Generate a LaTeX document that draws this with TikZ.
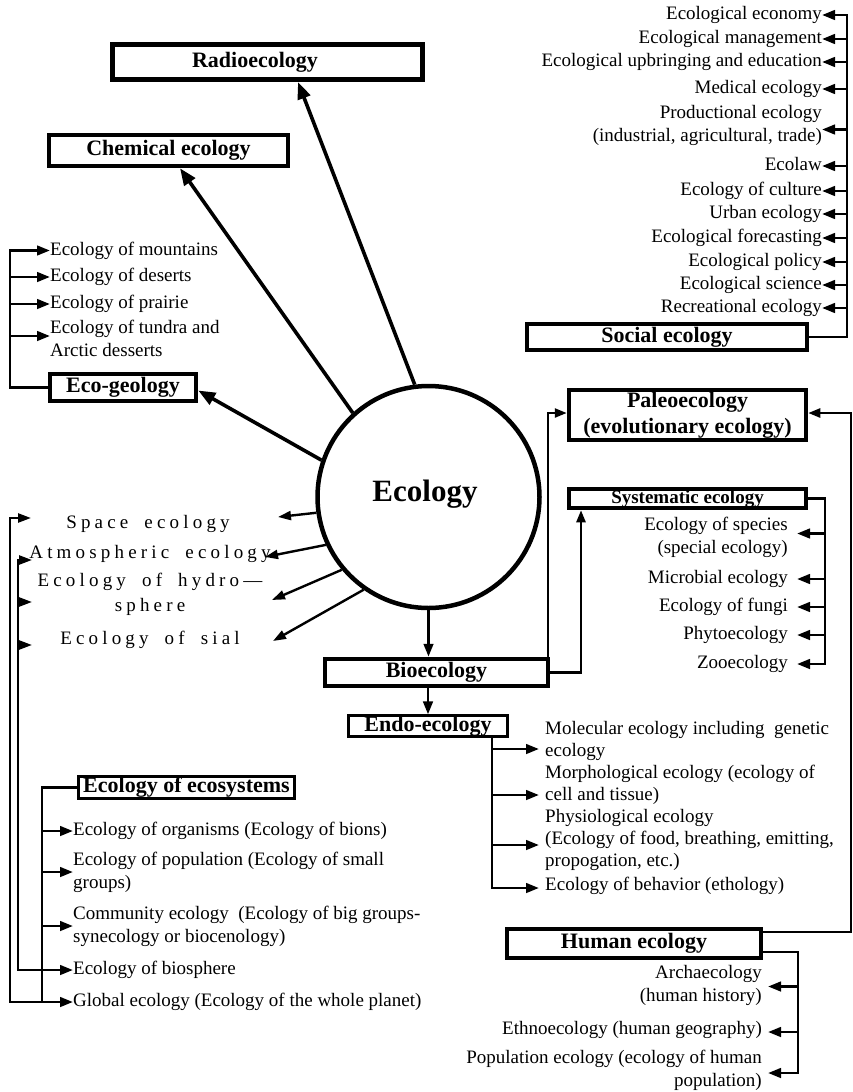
\documentclass[tikz,border=0pt]{standalone}
\usepackage{fontspec}
\setmainfont{Liberation Serif}
\newfontfamily\spacedfont[LetterSpace=22,WordSpace=1.8]{Liberation Serif}
\usetikzlibrary{arrows.meta}
\newcommand\itemfont{\fontsize{19}{23}\selectfont}
\newcommand\inlistfont{\fontsize{19}{22}\selectfont}
\newcommand\boxfont{\fontsize{22}{26}\selectfont\bfseries}
\newcommand\spfont{\spacedfont\fontsize{19}{25}\selectfont}
\begin{document}
\begin{tikzpicture}[x=1pt,y=-1pt,
 box/.style={draw, inner sep=0pt, align=center, font=\boxfont},
 it/.style={inner sep=0pt, font=\itemfont, execute at begin node=\strut, execute at end node=\strut},
 arr/.style={line width=2.8pt, -{Triangle[length=13pt,width=9.5pt]}},
 big/.style={line width=3.6pt, -{Triangle[length=17pt,width=13pt]}},
 sarr/.style={line width=2.4pt, -{Triangle[length=13pt,width=9pt]}},
 arrB/.style={line width=2.4pt, -{Triangle[length=12pt,width=9pt]}}]
\fill[white] (0,0) rectangle (852,1092);
\useasboundingbox (0,0) rectangle (852,1092);

% central circle
\node[circle, draw, line width=4.5pt, minimum size=222pt, inner sep=0pt,
      font=\fontsize{31}{36}\selectfont\bfseries] (eco) at (428.5,497) {};
\node[inner sep=0pt, font=\fontsize{31}{36}\selectfont\bfseries] (ecot) at (425,494) {Ecology};

% boxes
\node[box, line width=5pt, minimum width=310pt, minimum height=35pt] (radio) at (267.5,62) {};
\node[inner sep=0pt, font=\boxfont] (radiot) at (255,62) {Radioecology};
\node[box, line width=4.5pt, minimum width=239pt, minimum height=31pt] (chem) at (168.5,150.5) {Chemical ecology};
\node[box, line width=4pt, minimum width=146.5pt, minimum height=27.5pt] (geo) at (123,387.5) {Eco-geology};
\node[box, line width=4.5pt, minimum width=280pt, minimum height=26pt] (social) at (667,337) {Social ecology};
\node[box, line width=4.5pt, minimum width=237pt, minimum height=50pt] (paleo) at (687.5,415) {Paleoecology\\(evolutionary ecology)};
\node[box, line width=4pt, minimum width=237pt, minimum height=19.5pt,
      font=\fontsize{19}{22}\selectfont\bfseries] (sys) at (687.5,498.5) {Systematic ecology};
\node[box, line width=4pt, minimum width=223.5pt, minimum height=27.5pt] (bio) at (436.5,672.5) {Bioecology};
\node[box, line width=3pt, minimum width=159.5pt, minimum height=19.5pt] (endo) at (428,726) {Endo-ecology};
\node[box, line width=3.2pt, minimum width=216pt, minimum height=22pt] (ecosys) at (186.5,787.5) {Ecology of ecosystems};
\node[box, line width=4.5pt, minimum width=254pt, minimum height=29pt] (human) at (634,943.5) {Human ecology};

% social ecology list
\node[it, anchor=east] (s1) at (822,15) {Ecological economy};
\node[it, anchor=east] (s2) at (822,39) {Ecological management};
\node[it, anchor=east] (s3) at (822,62) {Ecological upbringing and education};
\node[it, anchor=east] (s4) at (822,89) {Medical ecology};
\node[it, anchor=east, align=right] (s5) at (822,126.5) {Productional ecology\\(industrial, agricultural, trade)};
\node[it, anchor=east] (s6) at (822,166) {Ecolaw};
\node[it, anchor=east] (s7) at (822,191) {Ecology of culture};
\node[it, anchor=east] (s8) at (822,214) {Urban ecology};
\node[it, anchor=east] (s9) at (822,238) {Ecological forecasting};
\node[it, anchor=east] (s10) at (822,262) {Ecological policy};
\node[it, anchor=east] (s11) at (822,285) {Ecological science};
\node[it, anchor=east] (s12) at (822,308) {Recreational ecology};
\coordinate (sx) at (847,0);
\draw[arr] (social.east) -| (sx |- s1.east) -- (s1.east);
\foreach \n in {s2,s3,s4,s6,s7,s8,s9,s10,s11,s12}
  \draw[arr] (sx |- \n.east) -- (\n.east);
\draw[arr] ([yshift=-3]sx |- s5.east) -- ([yshift=-3]s5.east);

% eco-geology list
\node[it, anchor=west] (m1) at (50,250.5) {Ecology of mountains};
\node[it, anchor=west] (m2) at (50,277) {Ecology of deserts};
\node[it, anchor=west] (m3) at (50,304) {Ecology of prairie};
\node[it, anchor=west, align=left] (m4) at (50,342) {Ecology of tundra and\\Arctic desserts};
\coordinate (gx) at (10,0);
\draw[arr] (geo.west) -| (gx |- m1.west) -- (m1.west);
\draw[arr] (gx |- m2.west) -- (m2.west);
\draw[arr] (gx |- m3.west) -- (m3.west);
\draw[arr] ([yshift=6]gx |- m4.west) -- ([yshift=6]m4.west);

% arrows from the circle
\draw[big] (eco.97) -- ([xshift=30.5]radio.south);
\draw[big] (eco.132) -- ([xshift=11.5]chem.south);
\draw[big] (eco.161) -- ([yshift=-3]geo.east);

% letter-spaced left list
\node[inner sep=0pt, font=\spfont, execute at begin node=\strut] (sp) at (148,523) {Space ecology};
\node[inner sep=0pt, font=\spfont, execute at begin node=\strut] (at) at (150,553) {Atmospheric ecology};
\node[inner sep=0pt, font=\spfont, align=center, execute at begin node=\strut, execute at end node=\strut] (hy) at (150,596.5) {Ecology of hydro—\\sphere};
\node[inner sep=0pt, font=\spfont, execute at begin node=\strut] (si) at (150,639) {Ecology of sial};
\coordinate (t1) at (278,517);
\coordinate (t2) at (265,557);
\coordinate (t3) at (272,600);
\coordinate (t4) at (273,641);
\draw[sarr] (eco.188) -- (t1);
\draw[sarr] (eco.205) -- (t2);
\draw[sarr] (eco.220) -- (t3);
\draw[sarr] (eco.235) -- (t4);

% bioecology connections
\draw[arr] (eco.south) -- (eco.south |- bio.north);
\draw[arr] (endo.north |- bio.south) -- (endo.north);
\draw[arrB] ([xshift=-2]bio.north east) |- ([yshift=2]paleo.west);
\draw[arrB] (bio.east) -| ([xshift=14]sys.south west);
\coordinate (rx) at (851,0);
\draw[arrB] ([yshift=11.5]human.east) -| ([yshift=2]rx |- paleo.east) -- ([yshift=2]paleo.east);

% systematic list
\node[it, anchor=east, align=right] (y1) at (788,538.5) {Ecology of species\\(special ecology)};
\node[it, anchor=east] (y2) at (788,579) {Microbial ecology};
\node[it, anchor=east] (y3) at (788,607) {Ecology of fungi};
\node[it, anchor=east] (y4) at (788,635) {Phytoecology};
\node[it, anchor=east] (y5) at (788,664) {Zooecology};
\coordinate (yx) at (825,0);
\draw[arr] (sys.east) -| (yx |- y5.east) -- ([xshift=9pt]y5.east);
\draw[arr] ([yshift=5]yx |- y1.east) -- ([xshift=9pt,yshift=5]y1.east);
\foreach \n in {y2,y3,y4}
  \draw[arr] (yx |- \n.east) -- ([xshift=9pt]\n.east);

% endo list
\node[it, anchor=west, align=left, font=\inlistfont] (n1) at (545,742) {Molecular ecology including\ \ genetic\\ecology};
\node[it, anchor=west, align=left, font=\inlistfont] (n2) at (545,786) {Morphological ecology (ecology of\\cell and tissue)};
\node[it, anchor=west, align=left, font=\inlistfont] (n3) at (545,841) {Physiological ecology\\(Ecology of food, breathing, emitting,\\propogation, etc.)};
\node[it, anchor=west, font=\inlistfont] (n4) at (545,886) {Ecology of behavior (ethology)};
\coordinate (ex) at (492,0);
\draw[arr] (ex |- endo.south) -- ([yshift=-2]ex |- n4.west) -- ([xshift=-6pt,yshift=-2]n4.west);
\draw[arr] ([yshift=-7]ex |- n1.west) -- ([xshift=-6pt,yshift=-7]n1.west);
\draw[arr] ([yshift=-9]ex |- n2.west) -- ([xshift=-6pt,yshift=-9]n2.west);
\draw[arr] ([yshift=-4]ex |- n3.west) -- ([xshift=-6pt,yshift=-4]n3.west);

% ecosystems list
\node[it, anchor=west] (e1) at (73,831) {Ecology of organisms (Ecology of bions)};
\node[it, anchor=west, align=left] (e2) at (73,874) {Ecology of population (Ecology of small\\groups)};
\node[it, anchor=west, align=left] (e3) at (73,928) {Community ecology\ \ (Ecology of big groups-\\synecology or biocenology)};
\node[it, anchor=west] (e4) at (73,970) {Ecology of biosphere};
\node[it, anchor=west] (e5) at (73,1002) {Global ecology (Ecology of the whole planet)};
\coordinate (ox) at (42,0);
\draw[arr] (ecosys.west) -| (ox |- e5.west) -- (e5.west);
\draw[arr] (ox |- e1.west) -- (e1.west);
\draw[arr] ([yshift=2]ox |- e2.west) -- ([yshift=2]e2.west);
\draw[arr] ([yshift=2]ox |- e3.west) -- ([yshift=2]e3.west);
\draw[arr] (ox |- e4.west) -- (e4.west);

% outer left brackets
\coordinate (lx1) at (10,0);
\coordinate (lx2) at (18,0);
\coordinate (a0) at (31,518);
\coordinate (a1) at (32,560);
\coordinate (a2) at (32,602);
\coordinate (a3) at (32,645);
\draw[sarr] (ox |- e5.west) -| (lx1 |- a0) -- (a0);
\draw[sarr] (ox |- e4.west) -| (lx2 |- a1) -- (a1);
\draw[sarr] (lx2 |- a2) -- (a2);
\draw[sarr] (lx2 |- a3) -- (a3);

% human ecology list
\node[it, anchor=east, align=right] (h1) at (762,986.5) {Archaecology\\(human history)};
\node[it, anchor=east] (h2) at (762,1030) {Ethnoecology (human geography)};
\node[it, anchor=east, align=right] (h3) at (762,1071.5) {Population ecology (ecology of human\\population)};
\coordinate (hx) at (798,0);
\draw[arr] ([yshift=-8.5]human.east) -| ([yshift=-1.5]hx |- h3.east) -- ([xshift=6pt,yshift=-1.5]h3.east);
\draw[arr] (hx |- h1.east) -- ([xshift=6pt]h1.east);
\draw[arr] ([yshift=-2]hx |- h2.east) -- ([xshift=6pt,yshift=-2]h2.east);
\end{tikzpicture}
\end{document}
